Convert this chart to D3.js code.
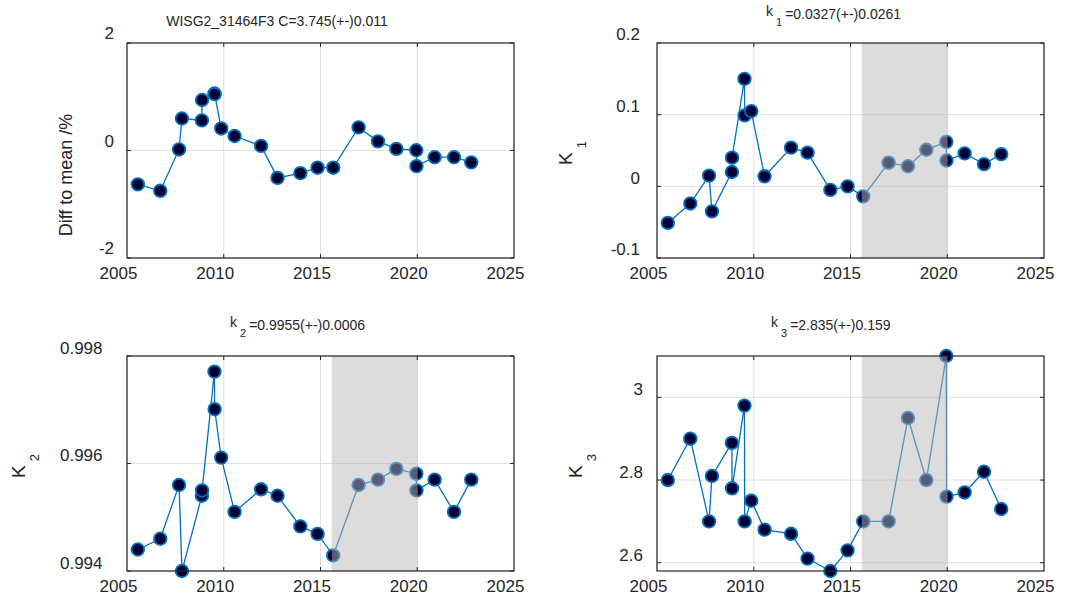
<!DOCTYPE html>
<html>
<head>
<meta charset="utf-8">
<script src="https://cdn.jsdelivr.net/npm/d3@7"></script>
<style>
body { margin: 0; background: #fff; }
text { font-family: "Liberation Sans", Arial, sans-serif; fill: #262626; }
</style>
</head>
<body>
<div id="chart"></div>
<script>
/* station constants over time, 4 panels */

let years = [2005.56, 2006.72, 2007.69, 2007.84, 2008.87, 2008.88, 2009.52, 2009.53, 2009.87, 2010.56,
    2011.93, 2012.78, 2013.96, 2014.85, 2015.66, 2016.97, 2017.97, 2018.92, 2019.95, 2019.96,
    2020.90, 2021.90, 2022.79];

let diffMean = [-0.63, -0.75, 0.02, 0.595, 0.56, 0.94, 1.06, 1.05, 0.41, 0.27,
    0.086, -0.51, -0.42, -0.32, -0.32, 0.43, 0.17, 0.03, 0.005, -0.29,
    -0.125, -0.125, -0.22];

let k1 = [-0.051, -0.024, 0.015, -0.035, 0.020, 0.040, 0.150, 0.099, 0.105, 0.014,
    0.054, 0.047, -0.005, 0.000, -0.014, 0.033, 0.028, 0.051, 0.062, 0.036,
    0.046, 0.031, 0.045];

let k2 = [0.99440, 0.99460, 0.99560, 0.99400, 0.99540, 0.99550, 0.99771, 0.99701, 0.99611, 0.99510,
    0.99552, 0.99540, 0.99483, 0.99469, 0.99429, 0.99560, 0.99570, 0.99590, 0.99581, 0.99550,
    0.99570, 0.99510, 0.99570];

let k3 = [2.80, 2.90, 2.70, 2.81, 2.89, 2.78, 2.98, 2.70, 2.75, 2.68,
    2.67, 2.61, 2.58, 2.63, 2.70, 2.70, 2.95, 2.80, 3.10, 2.76,
    2.77, 2.82, 2.73];

let xTicks = [2005, 2010, 2015, 2020, 2025];
let xTickLabels = ["2005", "2010", "2015", "2020", "2025"];
let shadeRange = [2015.58, 2020.02];

let diffTicks = [-2, 0, 2];
let diffTickLabels = ["-2", "0", "2"];
let k1Ticks = [-0.1, 0, 0.1, 0.2];
let k1TickLabels = ["-0.1", "0", "0.1", "0.2"];
let k2Ticks = [0.994, 0.996, 0.998];
let k2TickLabels = ["0.994", "0.996", "0.998"];
let k3Ticks = [2.6, 2.8, 3];
let k3TickLabels = ["2.6", "2.8", "3"];

let svg_width = 1070, svg_height = 603;
let lineColor = "#0072BD", markerFill = "#000035", frameColor = "#262626";

let panels = [
    {left: 127, top: 43, yDomain: [-2, 2], values: diffMean, ticks: diffTicks, tickLabels: diffTickLabels,
        gap: 13, lift: 9.5, shade: false,
        title: {x: 277, y: 26, main: "WISG2_31464F3 C=3.745(+-)0.011"},
        ylabel: {x: 71.5, y: 175, text: "Diff to mean /%"}},
    {left: 657, top: 43, yDomain: [-0.1, 0.2], values: k1, ticks: k1Ticks, tickLabels: k1TickLabels,
        gap: 17, lift: 8.5, shade: true,
        title: {x: 766, y: 18.5, k: "k", sub: "1", main: "=0.0327(+-)0.0261"},
        ylabel: {x: 572, y: 165, k: "K", sub: "1"}},
    {left: 127, top: 356, yDomain: [0.994, 0.998], values: k2, ticks: k2Ticks, tickLabels: k2TickLabels,
        gap: 24.5, lift: 8, shade: true,
        title: {x: 230, y: 330, k: "k", sub: "2", main: "=0.9955(+-)0.0006"},
        ylabel: {x: 25, y: 478, k: "K", sub: "2"}},
    {left: 657, top: 356, yDomain: [2.58, 3.1], values: k3, ticks: k3Ticks, tickLabels: k3TickLabels,
        gap: 14, lift: 8, shade: true,
        title: {x: 771, y: 330, k: "k", sub: "3", main: "=2.835(+-)0.159"},
        ylabel: {x: 582, y: 478, k: "K", sub: "3"}}
];
let boxW = 387, boxH = 215;

let svg = d3.select("#chart")
    .append("svg")
    .attr("width", svg_width)
    .attr("height", svg_height);

let drawPanel = function (p) {
    let x = d3.scaleLinear().domain([2005, 2025]).range([p.left, p.left + boxW]);
    let y = d3.scaleLinear().domain(p.yDomain).range([p.top + boxH, p.top]);
    let g = svg.append("g");

    // grid
    g.selectAll(".vgrid").data(xTicks).enter().append("line")
        .attr("x1", d => x(d)).attr("x2", d => x(d))
        .attr("y1", p.top).attr("y2", p.top + boxH)
        .attr("stroke", "#dfdfdf").attr("stroke-width", 1);
    g.selectAll(".hgrid").data(p.ticks).enter().append("line")
        .attr("x1", p.left).attr("x2", p.left + boxW)
        .attr("y1", d => y(d)).attr("y2", d => y(d))
        .attr("stroke", "#dfdfdf").attr("stroke-width", 1);

    let pts = d3.zip(years, p.values);

    g.append("path")
        .datum(pts)
        .attr("d", d3.line().x(d => x(d[0])).y(d => y(d[1])))
        .attr("fill", "none")
        .attr("stroke", lineColor)
        .attr("stroke-width", 1.3);

    g.selectAll(".pt").data(pts).enter().append("circle")
        .attr("cx", d => x(d[0]))
        .attr("cy", d => y(d[1]))
        .attr("r", 6.3)
        .attr("fill", markerFill)
        .attr("stroke", lineColor)
        .attr("stroke-width", 1.8);

    if (p.shade) {
        g.append("rect")
            .attr("x", x(shadeRange[0]))
            .attr("y", p.top)
            .attr("width", x(shadeRange[1]) - x(shadeRange[0]))
            .attr("height", boxH)
            .attr("fill", "#b8b8b8")
            .attr("opacity", 0.49);
    }

    // inward ticks on all four sides
    xTicks.slice(1, -1).forEach(function (t) {
        [[p.top + boxH, -4], [p.top, 4]].forEach(function (s) {
            g.append("line").attr("x1", x(t)).attr("x2", x(t))
                .attr("y1", s[0]).attr("y2", s[0] + s[1])
                .attr("stroke", frameColor).attr("stroke-width", 1);
        });
    });
    p.ticks.forEach(function (t) {
        [[p.left, 4], [p.left + boxW, -4]].forEach(function (s) {
            g.append("line").attr("x1", s[0]).attr("x2", s[0] + s[1])
                .attr("y1", y(t)).attr("y2", y(t))
                .attr("stroke", frameColor).attr("stroke-width", 1);
        });
    });

    g.append("rect")
        .attr("x", p.left).attr("y", p.top)
        .attr("width", boxW).attr("height", boxH)
        .attr("fill", "none")
        .attr("stroke", frameColor)
        .attr("stroke-width", 1.2);

    let xAxis = g.append("g")
        .attr("transform", "translate(0," + (p.top + boxH) + ")")
        .call(d3.axisBottom(x).tickValues(xTicks).tickFormat((d, i) => xTickLabels[i]).tickSize(0).tickPadding(9));
    xAxis.select(".domain").remove();
    xAxis.selectAll("text").attr("dx", -9).style("font-size", "17px").attr("fill", frameColor);

    let yAxis = g.append("g")
        .attr("transform", "translate(" + p.left + ",0)")
        .call(d3.axisLeft(y).tickValues(p.ticks).tickFormat((d, i) => p.tickLabels[i]).tickSize(0).tickPadding(p.gap));
    yAxis.select(".domain").remove();
    yAxis.selectAll("text").attr("y", -p.lift).style("font-size", "17px").attr("fill", frameColor);

    // title
    let t = g.append("text")
        .attr("x", p.title.x)
        .attr("y", p.title.y)
        .style("font-size", "14px");
    if (p.title.k) {
        t.attr("text-anchor", "start");
        t.append("tspan").attr("dy", -3).text(p.title.k);
        t.append("tspan").attr("dx", 3).attr("dy", 10).style("font-size", "11px").text(p.title.sub);
        t.append("tspan").attr("dx", 3).attr("dy", -7).text(p.title.main);
    } else {
        t.attr("text-anchor", "middle").text(p.title.main);
    }

    // y label
    let yl = g.append("text")
        .attr("transform", "translate(" + p.ylabel.x + "," + p.ylabel.y + ") rotate(-90)")
        .style("font-size", "18px");
    if (p.ylabel.k) {
        yl.attr("text-anchor", "start").style("font-size", "19px");
        yl.append("tspan").text(p.ylabel.k);
        yl.append("tspan").attr("dx", 4).attr("dy", 13.5).style("font-size", "13px").text(p.ylabel.sub);
    } else {
        yl.attr("text-anchor", "middle").text(p.ylabel.text);
    }
};

panels.forEach(drawPanel);
</script>
</body>
</html>
